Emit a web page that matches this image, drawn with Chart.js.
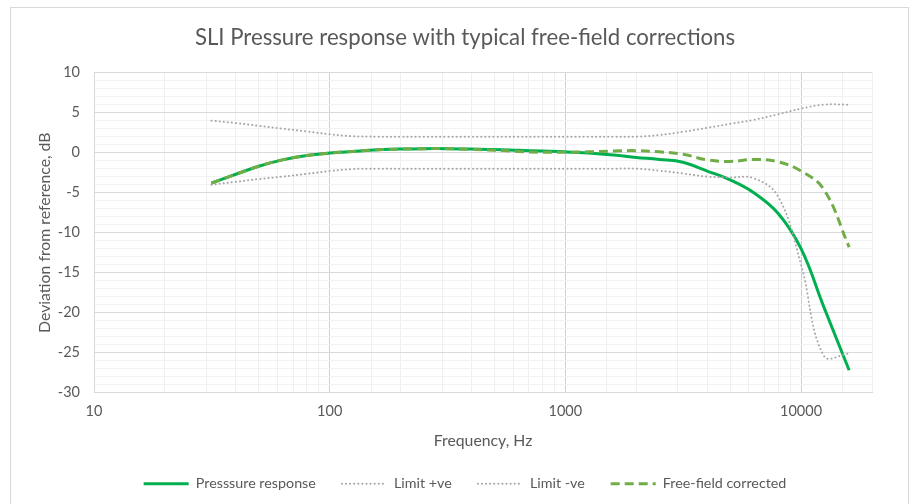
<!DOCTYPE html>
<html lang="en">
<head>
  <meta charset="UTF-8" />
  <title>SLI Pressure response</title>
  <script src="https://cdn.jsdelivr.net/npm/chart.js"></script>
  <style>
    body {
      margin: 0;
      padding: 0;
      background: #fff;
    }
    #wrap {
      position: relative;
      width: 914px;
      height: 504px;
    }
    #frame {
      position: absolute;
      left: 10px;
      top: 7px;
      width: 897px;
      height: 520px;
      border: 1px solid #d9d9d9;
      pointer-events: none;
    }
    canvas {
      position: absolute;
      left: 0;
      top: 0;
    }
  </style>
</head>
<body>
  <div id="wrap">
    <canvas id="chart" width="914" height="504"></canvas>
    <div id="frame"></div>
  </div>

  <script>
    // third-octave band centre frequencies, Hz
    const freqs = [31.5, 40, 50, 63, 80, 100, 125, 160, 200, 250, 315, 400, 500, 630, 800,
                   1000, 1250, 1600, 2000, 2500, 3150, 4000, 5000, 6300, 8000, 10000, 12500, 16000];

    const pressure = [-3.8, -2.7, -1.7, -0.9, -0.35, -0.05, 0.15, 0.35, 0.45, 0.5, 0.5, 0.45, 0.4, 0.3, 0.2,
                      0.1, -0.05, -0.3, -0.6, -0.85, -1.2, -2.3, -3.4, -5.0, -7.6, -12, -19.3, -27.2];

    const limitPos = [4, 3.7, 3.35, 3.0, 2.65, 2.3, 2.05, 2, 2, 2, 2, 2, 2, 2, 2,
                      2, 2, 2, 2, 2.2, 2.6, 3.1, 3.6, 4.1, 4.8, 5.5, 6, 6];

    const limitNeg = [-4, -3.65, -3.3, -3.0, -2.65, -2.3, -2.05, -2, -2, -2, -2, -2, -2, -2, -2,
                      -2, -2, -2, -2, -2.25, -2.6, -3, -3.1, -3.2, -5.5, -14, -25.4, -25.1];

    const freeField = [-3.8, -2.7, -1.7, -0.9, -0.35, -0.05, 0.15, 0.35, 0.45, 0.5, 0.5, 0.4, 0.3, 0.15, 0.05,
                       0.05, 0.1, 0.2, 0.25, 0.1, -0.2, -0.9, -1.1, -0.85, -1.15, -2.3, -4.6, -11.8];

    const xTicks = [10, 100, 1000, 10000];
    const yMin = -30, yMax = 10;

    const pts = vals => freqs.map((f, i) => ({ x: f, y: vals[i] }));
    const textColor = '#595959';
    const font = 'Lato';

    // legend lines should copy the dataset dash pattern
    const legendLabels = chart =>
      Chart.defaults.plugins.legend.labels.generateLabels(chart).map(item => {
        const ds = chart.data.datasets[item.datasetIndex];
        item.lineDash = ds.borderDash || [];
        item.lineCap = ds.borderCapStyle || 'butt';
        item.lineWidth = ds.borderWidth;
        item.strokeStyle = ds.borderColor;
        return item;
      });

    new Chart(document.getElementById('chart'), {
      type: 'line',
      data: {
        datasets: [
          {
            label: 'Presssure response',
            data: pts(pressure),
            borderColor: '#00b050',
            borderWidth: 3,
            order: 4
          },
          {
            label: 'Limit +ve',
            data: pts(limitPos),
            borderColor: '#a6a6a6',
            borderWidth: 2,
            borderDash: [0.1, 4],
            borderCapStyle: 'round',
            order: 3
          },
          {
            label: 'Limit -ve',
            data: pts(limitNeg),
            borderColor: '#a6a6a6',
            borderWidth: 2,
            borderDash: [0.1, 4],
            borderCapStyle: 'round',
            order: 2
          },
          {
            label: 'Free-field corrected',
            data: pts(freeField),
            borderColor: '#70ad47',
            borderWidth: 3,
            borderDash: [9, 5],
            order: 1
          }
        ]
      },
      options: {
        responsive: false,
        animation: false,
        layout: { padding: { left: 58, right: 42, top: 0, bottom: 3 } },
        elements: {
          point: { radius: 0 },
          line: { tension: 0.4 }
        },
        plugins: {
          title: {
            display: true,
            text: 'SLI Pressure response with typical free-field corrections',
            color: textColor,
            font: { family: font, size: 22.2, weight: 'normal' },
            padding: { top: 25, bottom: 21 }
          },
          legend: {
            position: 'bottom',
            labels: {
              color: textColor,
              font: { family: font, size: 14.3 },
              usePointStyle: true,
              pointStyle: 'line',
              pointStyleWidth: 45,
              padding: 26,
              generateLabels: legendLabels,
              sort: (a, b) => a.datasetIndex - b.datasetIndex
            }
          },
          tooltip: { enabled: false }
        },
        scales: {
          x: {
            type: 'logarithmic',
            min: 10,
            max: 20000,
            afterFit: s => { s.height = 58; },
            grid: {
              color: ctx => xTicks.includes(ctx.tick && ctx.tick.value) ? '#d0d0d0' : '#efefef',
              drawTicks: false
            },
            border: { color: '#d9d9d9' },
            ticks: {
              autoSkip: false,
              maxRotation: 0,
              padding: 10,
              color: textColor,
              font: { family: font, size: 14.5 },
              callback: v => xTicks.includes(v) ? String(v) : ''
            },
            title: {
              display: true,
              text: 'Frequency, Hz',
              color: textColor,
              font: { family: font, size: 15.8 },
              padding: { top: 0, bottom: 0 }
            }
          },
          y: {
            min: yMin,
            max: yMax,
            afterFit: s => { s.width = 36; },
            grid: {
              color: ctx => ctx.tick && ctx.tick.value % 5 === 0 ? '#d9d9d9' : '#f2f2f2',
              drawTicks: false
            },
            border: { color: '#d9d9d9' },
            ticks: {
              stepSize: 1,
              autoSkip: false,
              padding: 14,
              color: textColor,
              font: { family: font, size: 14.5 },
              callback: v => v % 5 === 0 ? String(v) : ''
            },
            title: {
              display: true,
              text: 'Deviation from reference, dB',
              color: textColor,
              font: { family: font, size: 15.8 },
              padding: { top: -22.5, bottom: 0 }
            }
          }
        }
      }
    });
  </script>
</body>
</html>
